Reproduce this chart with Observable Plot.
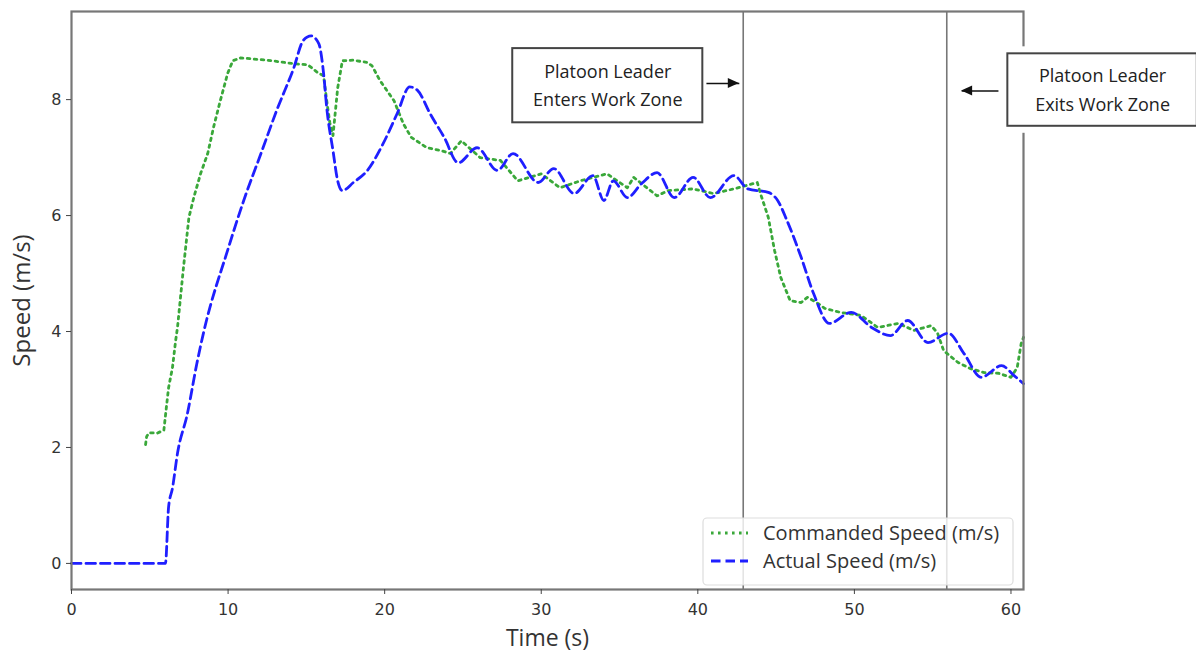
<!DOCTYPE html>
<html>
<head>
<meta charset="utf-8">
<script src="https://cdn.jsdelivr.net/npm/d3@7"></script>
<script src="https://cdn.jsdelivr.net/npm/@observablehq/plot@0.6"></script>
<style>
  html, body { margin: 0; padding: 0; background: #fff; }
  #chart svg { overflow: visible; }
</style>
</head>
<body>
<div id="chart"></div>
<script>
// ---- Data ----
const commandedT = [4.73, 4.8, 4.95, 5.5, 5.9, 6.05, 6.2, 6.45, 6.65, 6.77, 7.15, 7.5, 7.8, 8.24, 8.7, 9.07, 9.5, 9.97, 10.3, 10.8, 12.5, 14.2, 15.1, 15.7, 16.1, 16.3, 16.5, 16.7, 17.0, 17.3, 18.0, 18.9, 19.2, 19.7, 20.6, 21.2, 21.7, 22.7, 23.6, 24.2, 24.9, 26.1, 27.4, 28.5, 30.0, 31.2, 32.5, 34.2, 35.5, 35.9, 37.4, 38.1, 39.7, 41.0, 42.3, 43.8, 44.0, 44.5, 44.9, 45.3, 45.9, 46.6, 47.0, 47.7, 48.1, 49.1, 50.4, 51.5, 52.8, 53.8, 54.9, 55.3, 55.7, 56.6, 57.4, 58.3, 59.2, 60.0, 60.4, 60.65, 60.8];
const commandedV = [2.05, 2.19, 2.25, 2.25, 2.3, 2.67, 3.03, 3.38, 3.84, 4.07, 5.1, 5.97, 6.3, 6.72, 7.07, 7.52, 7.98, 8.45, 8.67, 8.72, 8.68, 8.62, 8.6, 8.47, 8.41, 7.98, 7.6, 7.38, 8.2, 8.67, 8.68, 8.64, 8.58, 8.33, 7.98, 7.58, 7.35, 7.17, 7.12, 7.07, 7.29, 7.0, 6.95, 6.6, 6.72, 6.48, 6.6, 6.72, 6.48, 6.66, 6.34, 6.43, 6.46, 6.38, 6.46, 6.57, 6.38, 5.97, 5.4, 4.93, 4.53, 4.5, 4.59, 4.48, 4.4, 4.33, 4.28, 4.07, 4.14, 4.02, 4.1, 3.98, 3.67, 3.47, 3.36, 3.29, 3.28, 3.21, 3.38, 3.79, 3.9];

const actualT = [0, 6.0, 6.2, 6.45, 6.77, 7.4, 8.0, 8.45, 9.97, 11.0, 12.1, 13.1, 14.2, 14.8, 15.3, 15.8, 16.1, 16.3, 16.7, 17.0, 17.3, 18.0, 18.9, 19.9, 20.8, 21.6, 22.1, 22.9, 23.8, 24.7, 25.9, 27.2, 28.2, 29.8, 30.8, 32.1, 33.3, 34.0, 34.6, 35.5, 36.4, 37.4, 38.5, 39.7, 40.8, 42.3, 43.2, 44.5, 45.1, 45.7, 46.6, 47.4, 48.4, 49.8, 51.1, 52.3, 53.4, 54.7, 56.0, 57.0, 58.1, 59.4, 60.2, 60.8];
const actualV = [0, 0, 0.97, 1.3, 1.9, 2.58, 3.44, 4.0, 5.4, 6.26, 7.07, 7.81, 8.55, 9.02, 9.1, 8.96, 8.45, 7.86, 7.12, 6.6, 6.43, 6.57, 6.78, 7.24, 7.76, 8.22, 8.16, 7.76, 7.35, 6.91, 7.17, 6.78, 7.07, 6.57, 6.81, 6.38, 6.69, 6.26, 6.6, 6.31, 6.55, 6.74, 6.31, 6.66, 6.31, 6.69, 6.46, 6.4, 6.26, 5.91, 5.28, 4.65, 4.14, 4.33, 4.07, 3.93, 4.19, 3.81, 3.97, 3.62, 3.21, 3.41, 3.24, 3.1];

const zoneLines = [42.9, 55.9];        // work-zone entry / exit times (s)
const xTicks = [0, 10, 20, 30, 40, 50, 60];
const yTicks = [0, 2, 4, 6, 8];

const seriesNames = ["Commanded Speed (m/s)", "Actual Speed (m/s)"];
const seriesColors = ["#3aa83a", "#1f1fff"];

const noteLines1 = ["Platoon Leader", "Enters Work Zone"];
const noteLines2 = ["Platoon Leader", "Exits Work Zone"];
// annotation boxes in data units: [t1, t2, v1, v2]
const noteBox1 = [28.18, 40.32, 7.6, 8.88];
const noteBox2 = [59.8, 71.9, 7.54, 8.79];
// arrows in data units: [t1, v1, t2, v2]
const arrow1 = [40.55, 8.28, 42.65, 8.28];
const arrow2 = [59.2, 8.15, 56.85, 8.15];

// ---- Build tables ----
const commanded = commandedT.map((t, i) => ({t, v: commandedV[i]}));
const actual = actualT.map((t, i) => ({t, v: actualV[i]}));

const boxes = [noteBox1, noteBox2].map(b => ({x1: b[0], x2: b[1], y1: b[2], y2: b[3]}));
const labels = [[noteBox1, noteLines1], [noteBox2, noteLines2]].map(([b, lines]) => ({
  x: (b[0] + b[1]) / 2, y: (b[2] + b[3]) / 2, s: lines.join("\n")
}));
const arrows = [arrow1, arrow2].map(a => ({x1: a[0], y1: a[1], x2: a[2], y2: a[3]}));

const labelFont = "'Open Sans', 'Liberation Sans', sans-serif";
const dotDash = "2.6,4.4";

const plot = Plot.plot({
  width: 1196,
  height: 654,
  marginLeft: 71,
  marginRight: 173,
  marginTop: 11,
  marginBottom: 65,
  x: {domain: [0, 60.8]},
  y: {domain: [-0.45, 9.52]},
  style: {fontFamily: "'DejaVu Sans', sans-serif", fontSize: "16px", color: "#333", background: "#fff", overflow: "visible"},
  marks: [
    Plot.ruleX(zoneLines, {stroke: "#777", strokeWidth: 1.6}),
    Plot.line(commanded, {x: "t", y: "v", stroke: seriesColors[0], strokeWidth: 2.8, strokeDasharray: dotDash}),
    Plot.line(actual, {x: "t", y: "v", stroke: seriesColors[1], strokeWidth: 2.8, strokeDasharray: "9.5,5", curve: "monotone-x"}),
    Plot.frame({stroke: "#777", strokeWidth: 2.2}),
    Plot.axisX({ticks: xTicks, tickSize: 5, tickPadding: 9, label: null, stroke: "#444", fontSize: 16}),
    Plot.axisY({ticks: yTicks, tickSize: 5, tickPadding: 5, label: null, stroke: "#444", fontSize: 16}),
    Plot.text(["Time (s)"], {frameAnchor: "bottom", lineAnchor: "middle", textAnchor: "middle", dy: 49, fontSize: 23, fontFamily: labelFont, fill: "#333"}),
    Plot.text(["Speed (m/s)"], {frameAnchor: "left", lineAnchor: "middle", textAnchor: "middle", dx: -49, rotate: -90, fontSize: 24, fontFamily: labelFont, fill: "#333"}),
    // annotation boxes (white halo clears the frame behind them)
    Plot.rect(boxes, {x1: "x1", x2: "x2", y1: "y1", y2: "y2", fill: "#fff", stroke: "#fff", strokeWidth: 14, clip: false}),
    Plot.rect(boxes, {x1: "x1", x2: "x2", y1: "y1", y2: "y2", fill: "#fff", stroke: "#444", strokeWidth: 2, clip: false}),
    Plot.text(labels, {x: "x", y: "y", text: "s", dy: -3, lineHeight: 1.6, fontSize: 18, fontFamily: labelFont, fill: "#222", clip: false}),
    Plot.link(arrows, {x1: "x1", y1: "y1", x2: "x2", y2: "y2", stroke: "#111", strokeWidth: 1.5})
  ]
});

document.getElementById("chart").appendChild(plot);

// ---- filled arrow heads and legend (drawn into the same SVG) ----
const svg = d3.select(plot);
const sx = plot.scale("x"), sy = plot.scale("y");
arrows.forEach(a => {
  const x2 = sx.apply(a.x2), y2 = sy.apply(a.y2), x1 = sx.apply(a.x1);
  const dir = Math.sign(x2 - x1);
  svg.append("path")
    .attr("d", `M${x2},${y2} L${x2 - dir * 11},${y2 - 5} L${x2 - dir * 11},${y2 + 5} Z`)
    .attr("fill", "#111");
});

const lg = svg.append("g").attr("font-family", labelFont).attr("font-size", 20).attr("fill", "#333").attr("text-anchor", "start");
lg.append("rect").attr("x", 703).attr("y", 518).attr("width", 310).attr("height", 67)
  .attr("rx", 4).attr("fill", "#fff").attr("fill-opacity", 0.8).attr("stroke", "#ddd").attr("stroke-width", 1.2);
const legendRows = [
  {name: seriesNames[0], color: seriesColors[0], dash: dotDash, y: 533},
  {name: seriesNames[1], color: seriesColors[1], dash: "9.5,5", y: 561}
];
legendRows.forEach(r => {
  lg.append("line").attr("x1", 711).attr("x2", 748).attr("y1", r.y).attr("y2", r.y)
    .attr("stroke", r.color).attr("stroke-width", 2.8).attr("stroke-dasharray", r.dash);
  lg.append("text").attr("x", 763).attr("y", r.y).attr("dy", "0.35em").attr("text-anchor", "start").text(r.name);
});
</script>
</body>
</html>
